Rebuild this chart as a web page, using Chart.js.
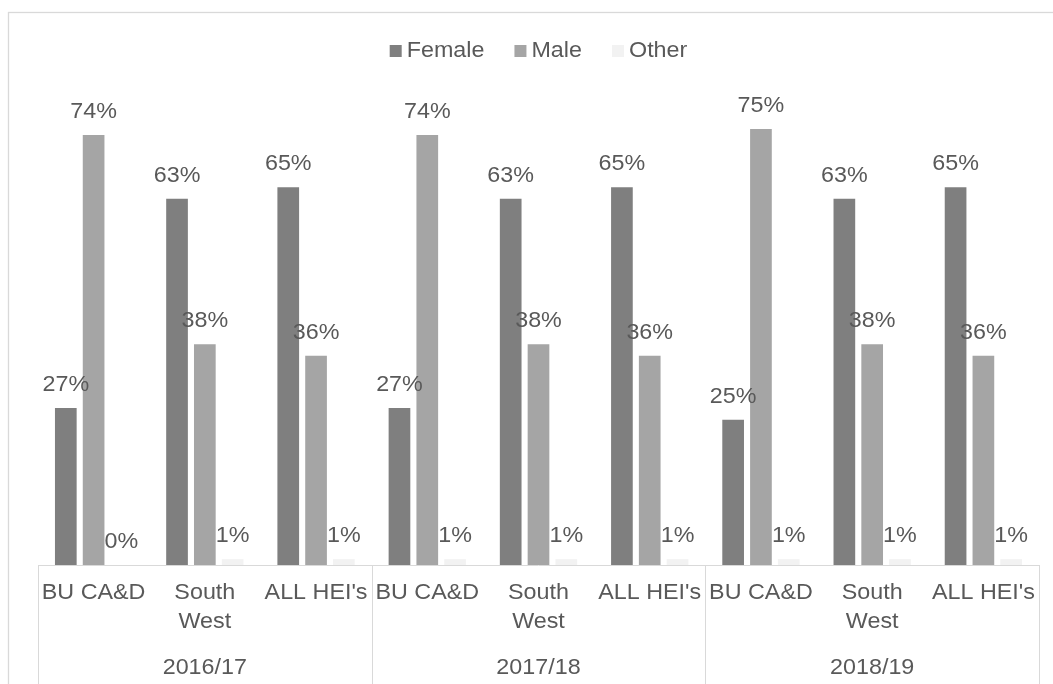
<html>

<head>
  <script src="https://cdn.jsdelivr.net/npm/chart.js"></script>
  <style>
    body { margin: 0; background: #fff; }
  </style>
</head>

<body>
  <div style="width: 1053px; height: 684px; position: relative;">
    <canvas id="myChart"></canvas>
  </div>
  <script>
    // chart data
    var years = ['2016/17', '2017/18', '2018/19'];
    var groups = ['BU CA&D', 'South West', "ALL HEI's"];
    var female = [27, 63, 65, 27, 63, 65, 25, 63, 65];
    var male = [74, 38, 36, 74, 38, 36, 75, 38, 36];
    var other = [0, 1, 1, 1, 1, 1, 1, 1, 1];

    var textColor = '#595959';
    var lineColor = '#d9d9d9';
    var font = '22px "Liberation Sans", Arial, sans-serif';
    var stretch = 1.06; // text is drawn a little wide

    var labels = [];
    years.forEach(function (y) {
      groups.forEach(function (g) { labels.push(g); });
    });

    // category labels wrap like the spreadsheet does
    var wrapLabel = function (txt) {
      return txt == 'South West' ? ['South', 'West'] : [txt];
    };

    var drawText = function (ctx, txt, x, y) {
      ctx.save();
      ctx.translate(x, y);
      ctx.scale(stretch, 1);
      ctx.fillText(txt, 0, 0);
      ctx.restore();
    };

    var textWidth = function (ctx, txt) {
      return ctx.measureText(txt).width * stretch;
    };

    var decorations = {
      id: 'decorations',
      afterDraw: function (chart) {
        var ctx = chart.ctx;
        var area = chart.chartArea;
        var xs = chart.scales.x;
        var catW = (area.right - area.left) / labels.length;
        ctx.save();

        // outer frame
        ctx.strokeStyle = lineColor;
        ctx.lineWidth = 1.3;
        ctx.strokeRect(8.5, 12.5, 1100, 720);

        // axis line and year separators
        ctx.lineWidth = 1;
        ctx.beginPath();
        ctx.moveTo(area.left, area.bottom + 0.5);
        ctx.lineTo(area.right, area.bottom + 0.5);
        for (var k = 0; k <= years.length; k++) {
          var sx = Math.round(area.left + k * groups.length * catW) + 0.5;
          ctx.moveTo(sx, area.bottom);
          ctx.lineTo(sx, chart.height);
        }
        ctx.stroke();

        ctx.font = font;
        ctx.fillStyle = textColor;
        ctx.textAlign = 'center';
        ctx.textBaseline = 'alphabetic';

        // category and year labels
        labels.forEach(function (l, i) {
          var cx = xs.getPixelForValue(i);
          wrapLabel(l).forEach(function (line, n) {
            drawText(ctx, line, cx, area.bottom + 34 + n * 29);
          });
        });
        years.forEach(function (y, k) {
          var cx = area.left + (k + 0.5) * groups.length * catW;
          drawText(ctx, y, cx, area.bottom + 109);
        });

        // value labels over each bar
        chart.data.datasets.forEach(function (ds, i) {
          var meta = chart.getDatasetMeta(i);
          meta.data.forEach(function (bar, j) {
            drawText(ctx, ds.data[j] + '%', bar.x, bar.y - 17);
          });
        });

        // legend
        ctx.textAlign = 'left';
        var box = 12, gap = 5, space = 30;
        var total = 0;
        chart.data.datasets.forEach(function (ds, i) {
          total += box + gap + textWidth(ctx, ds.label) + (i > 0 ? space : 0);
        });
        var lx = (area.left + area.right) / 2 - total / 2;
        var ly = 57;
        chart.data.datasets.forEach(function (ds) {
          ctx.fillStyle = ds.backgroundColor;
          ctx.fillRect(lx, ly - box, box, box);
          ctx.fillStyle = textColor;
          drawText(ctx, ds.label, lx + box + gap, ly);
          lx += box + gap + textWidth(ctx, ds.label) + space;
        });

        ctx.restore();
      }
    };

    var ctx = document.getElementById('myChart').getContext('2d');
    var grafica = new Chart(ctx, {
      type: 'bar',
      data: {
        labels: labels,
        datasets: [{
          label: 'Female',
          data: female,
          backgroundColor: '#7f7f7f'
        }, {
          label: 'Male',
          data: male,
          backgroundColor: '#a5a5a5'
        }, {
          label: 'Other',
          data: other,
          backgroundColor: '#f2f2f2'
        }]
      },
      options: {
        responsive: true,
        maintainAspectRatio: false,
        animation: false,
        categoryPercentage: 0.75,
        barPercentage: 0.78,
        layout: { padding: { left: 38, right: 14, top: 100, bottom: 119 } },
        scales: {
          x: { display: false },
          y: { display: false, min: 0, max: 80 }
        },
        plugins: {
          legend: { display: false },
          tooltip: { enabled: false }
        }
      },
      plugins: [decorations]
    });
  </script>
</body>

</html>
